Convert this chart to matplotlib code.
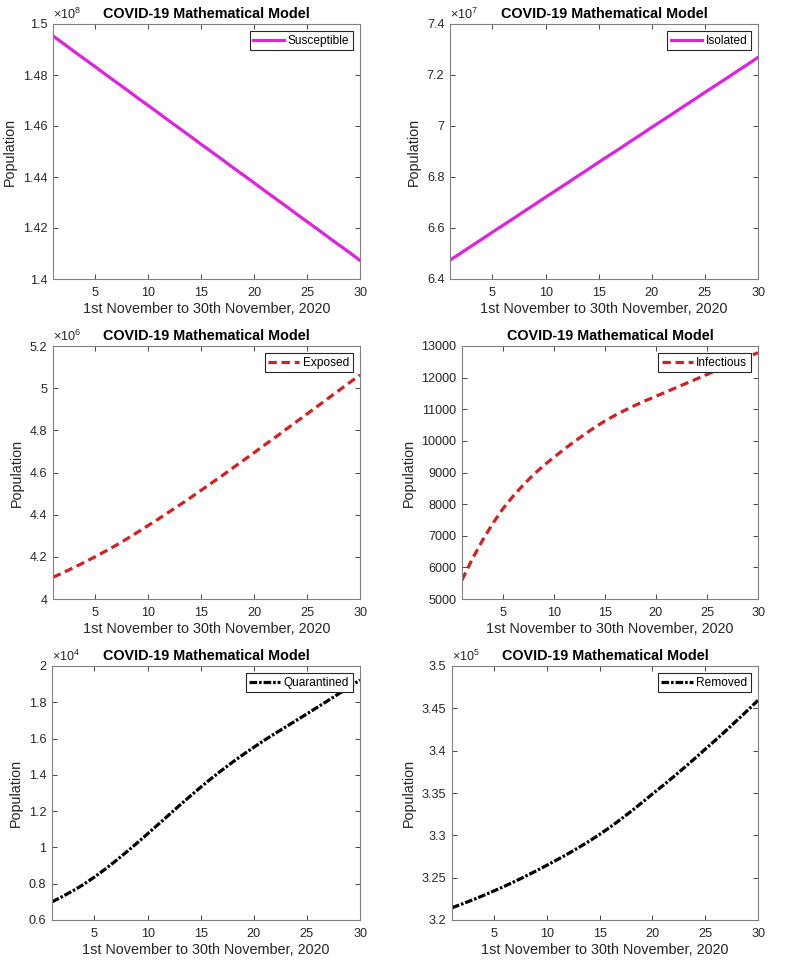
import matplotlib
matplotlib.use("Agg")
import matplotlib.pyplot as plt
from matplotlib.ticker import FuncFormatter, FixedLocator
import numpy as np

plt.rcParams['font.family'] = ['Liberation Sans', 'DejaVu Sans']
plt.rcParams['mathtext.fontset'] = 'custom'
plt.rcParams['mathtext.rm'] = 'Liberation Sans'
plt.rcParams['mathtext.it'] = 'Liberation Sans'

days = list(range(1, 31))

susceptible = [1.4953, 1.4923, 1.4892, 1.4862, 1.4832, 1.4801, 1.4771, 1.4741, 1.4710, 1.4680,
               1.4650, 1.4619, 1.4589, 1.4559, 1.4528, 1.4498, 1.4468, 1.4437, 1.4407, 1.4377,
               1.4346, 1.4316, 1.4286, 1.4255, 1.4225, 1.4195, 1.4164, 1.4134, 1.4104, 1.4073]  # x1e8
isolated = [6.474, 6.501, 6.529, 6.556, 6.584, 6.611, 6.638, 6.666, 6.693, 6.721,
            6.748, 6.775, 6.803, 6.830, 6.858, 6.885, 6.912, 6.940, 6.967, 6.995,
            7.022, 7.049, 7.077, 7.104, 7.132, 7.159, 7.186, 7.214, 7.241, 7.269]  # x1e7
exposed = [4.103, 4.126, 4.150, 4.175, 4.201, 4.228, 4.256, 4.286, 4.317, 4.349,
           4.381, 4.414, 4.447, 4.481, 4.516, 4.551, 4.586, 4.622, 4.658, 4.694,
           4.731, 4.767, 4.804, 4.841, 4.878, 4.915, 4.952, 4.989, 5.026, 5.063]  # x1e6
infectious = [5600, 6260, 6850, 7380, 7850, 8250, 8605, 8930, 9220, 9480,
              9735, 9975, 10205, 10425, 10630, 10810, 10975, 11130, 11275, 11410,
              11548, 11686, 11824, 11962, 12100, 12238, 12376, 12514, 12652, 12790]
quarantined = [0.700, 0.730, 0.762, 0.797, 0.837, 0.880, 0.926, 0.974, 1.024, 1.075,
               1.127, 1.179, 1.231, 1.282, 1.332, 1.380, 1.426, 1.470, 1.512, 1.552,
               1.591, 1.628, 1.664, 1.700, 1.736, 1.773, 1.810, 1.847, 1.885, 1.923]  # x1e4
removed = [3.2145, 3.2191, 3.2240, 3.2291, 3.2345, 3.2400, 3.2458, 3.2519, 3.2582, 3.2647,
           3.2714, 3.2783, 3.2855, 3.2931, 3.3011, 3.3098, 3.3190, 3.3286, 3.3386, 3.3489,
           3.3589, 3.3692, 3.3798, 3.3906, 3.4018, 3.4128, 3.4241, 3.4357, 3.4475, 3.4594]  # x1e5

title = "COVID-19 Mathematical Model"
xlabel = "1st November to 30th November, 2020"
ylabel = "Population"
xticks = [5, 10, 15, 20, 25, 30]

MAG = '#DE22DE'
RED = '#D42020'
BLK = '#000000'
AXC = '#262626'

panels = [
    ("Susceptible", susceptible, 1e8, 8, [1.40, 1.42, 1.44, 1.46, 1.48, 1.50], MAG, 'solid', (53, 360, 24, 279)),
    ("Isolated", isolated, 1e7, 7, [6.4, 6.6, 6.8, 7.0, 7.2, 7.4], MAG, 'solid', (450, 758, 24, 279)),
    ("Exposed", exposed, 1e6, 6, [4.0, 4.2, 4.4, 4.6, 4.8, 5.0, 5.2], RED, 'dash', (53, 360, 346, 599)),
    ("Infectious", infectious, 1, None, [5000, 6000, 7000, 8000, 9000, 10000, 11000, 12000, 13000], RED, 'dash', (462, 758, 346, 599)),
    ("Quarantined", quarantined, 1e4, 4, [0.6, 0.8, 1.0, 1.2, 1.4, 1.6, 1.8, 2.0], BLK, 'dashdot', (52, 360, 666, 920)),
    ("Removed", removed, 1e5, 5, [3.2, 3.25, 3.3, 3.35, 3.4, 3.45, 3.5], BLK, 'dashdot', (452, 758, 666, 920)),
]

W, H = 797, 960
fig = plt.figure(figsize=(W / 100, H / 100), dpi=100)

for name, vals, scale, expo, yt, color, style, (l, r, t, b) in panels:
    ax = fig.add_axes([l / W, (H - b) / H, (r - l) / W, (b - t) / H])
    y = np.array(vals) * scale
    ln, = ax.plot(days, y, color=color, lw=2.3, label=name)
    if style == 'dash':
        ln.set_dashes((2.6, 1.5))
    elif style == 'dashdot':
        ln.set_dashes((2.4, 0.6, 0.8, 0.6))
    ax.set_xlim(1, 30)
    ax.set_ylim(yt[0] * scale, yt[-1] * scale)
    ax.xaxis.set_major_locator(FixedLocator(xticks))
    ax.yaxis.set_major_locator(FixedLocator([v * scale for v in yt]))
    ax.yaxis.set_major_formatter(FuncFormatter(lambda v, p, s=scale: f"{round(v / s, 6):g}"))
    ax.tick_params(direction='in', length=3.5, width=0.6, top=True, right=True,
                   labelsize=9.1, colors=AXC)
    ax.tick_params(axis='x', pad=6)
    ax.tick_params(axis='y', pad=4)
    for sp in ax.spines.values():
        sp.set_color('#808080')
        sp.set_linewidth(0.8)
    ax.set_title(title, fontsize=10.4, fontweight='bold', pad=4)
    ax.set_xlabel(xlabel, fontsize=10.4, color=AXC, labelpad=2)
    ax.set_ylabel(ylabel, fontsize=10.4, color=AXC, labelpad=4)
    if expo is not None:
        ax.text(0.0, 1.008, r'$\times10^{%d}$' % expo, transform=ax.transAxes,
                fontsize=9.1, color=AXC, ha='left', va='bottom')
    leg = ax.legend(loc='upper right', fontsize=8.6, frameon=True, fancybox=False,
                    handlelength=2.6, handletextpad=0.3, borderpad=0.3,
                    borderaxespad=0.6, framealpha=1.0)
    leg.get_frame().set_edgecolor('#262626')
    leg.get_frame().set_linewidth(0.8)

fig.savefig("out.png", dpi=100)
